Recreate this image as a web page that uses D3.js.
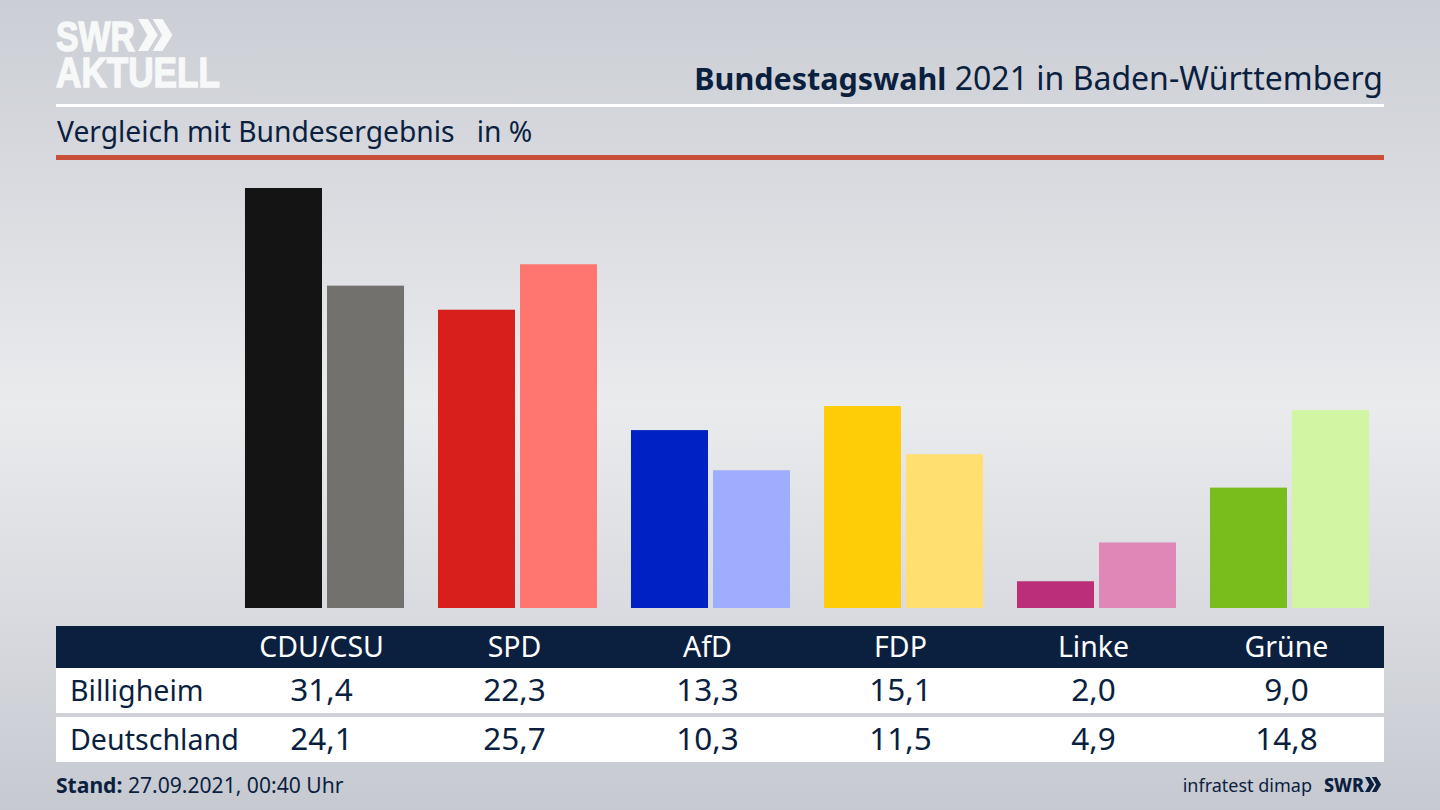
<!DOCTYPE html>
<html>
<head>
<meta charset="utf-8">
<script src="https://cdn.jsdelivr.net/npm/d3@7"></script>
<style>
  html, body { margin: 0; padding: 0; background: #d5d7dc; }
  svg { display: block; }
  text { font-family: "Noto Sans", sans-serif; fill: #0b1f3f; }
</style>
</head>
<body>
<div id="chart"></div>
<script>
var parties = ["CDU/CSU", "SPD", "AfD", "FDP", "Linke", "Grüne"];
var regions = ["Billigheim", "Deutschland"];
var billigheim = [31.4, 22.3, 13.3, 15.1, 2.0, 9.0];
var deutschland = [24.1, 25.7, 10.3, 11.5, 4.9, 14.8];
var billigheim_colors = ["#141414", "#d81f1c", "#0021c4", "#ffcc08", "#bb2f78", "#79bd1c"];
var deutschland_colors = ["#73716e", "#ff7570", "#9fadff", "#ffdf70", "#df88b7", "#d2f5a4"];

var navy = "#0b1f3f";
var svg = d3.select("#chart").append("svg").attr("width", 1440).attr("height", 810);

var defs = svg.append("defs");
var bg = defs.append("linearGradient").attr("id", "bg").attr("x1", 0).attr("x2", 0).attr("y1", 0).attr("y2", 1);
bg.selectAll("stop")
    .data([["0%", "#cbced4"], ["22%", "#d8dadf"], ["50%", "#eaebed"], ["75%", "#d9dbe0"], ["100%", "#c6c9d0"]])
    .enter().append("stop")
    .attr("offset", function(d) {return d[0];})
    .attr("stop-color", function(d) {return d[1];});
svg.append("rect").attr("width", 1440).attr("height", 810).attr("fill", "url(#bg)");

/* logo top left */
function chevrons(g, x, y, h, fill) {
    var w = h * 0.56;
    [0, w * 0.82].forEach(function(dx) {
        g.append("path")
            .attr("d", d3.line()([[x + dx, y], [x + dx + w * 0.55, y], [x + dx + w * 1.1, y + h / 2], [x + dx + w * 0.55, y + h], [x + dx, y + h], [x + dx + w * 0.52, y + h / 2]]) + "Z")
            .attr("fill", fill);
    });
}
/* both logo lines in one text element, y is in the stretched coordinates */
var logo = svg.append("text")
    .attr("transform", "translate(56,51) scale(1,1.34)")
    .attr("font-size", 32).attr("font-weight", 700)
    .style("font-family", "'Liberation Sans', sans-serif")
    .style("fill", "#f7f8f8").style("stroke", "#f7f8f8").style("stroke-width", 1.1);
logo.append("tspan").attr("x", 0).attr("y", 0)
    .attr("textLength", 79).attr("lengthAdjust", "spacingAndGlyphs").text("SWR");
logo.append("tspan").attr("x", 0).attr("y", 26.9)
    .attr("textLength", 164).attr("lengthAdjust", "spacingAndGlyphs").text("AKTUELL");
chevrons(svg.append("g"), 138, 19, 32, "#f7f8f8");

/* heading */
var title = svg.append("text").attr("x", 1383).attr("y", 90).attr("text-anchor", "end");
title.append("tspan").attr("font-weight", 700).attr("font-size", 30.5).text("Bundestagswahl");
title.append("tspan").attr("font-size", 32).text(" 2021 in Baden-Württemberg");
svg.append("rect").attr("x", 56).attr("y", 104).attr("width", 1328).attr("height", 3).attr("fill", "#ffffff");
svg.append("text").attr("x", 57).attr("y", 142).attr("font-size", 28.25).attr("xml:space", "preserve")
    .text("Vergleich mit Bundesergebnis   in %");
svg.append("rect").attr("x", 56).attr("y", 155).attr("width", 1328).attr("height", 5).attr("fill", "#c8503a");

/* bars sit 3px right of the table columns */
var x = d3.scaleBand().domain(parties).range([225, 1383]).paddingInner(0.176).paddingOuter(0.088);
var x_bars = x.copy().range([228, 1386]);
var x_inner = d3.scaleBand().domain(regions).range([0, x.bandwidth()]).paddingInner(0.061);
var y = d3.scaleLinear().domain([0, 31.4]).range([608, 188]);

function draw_series(region, values, colors) {
    svg.append("g").selectAll("rect")
        .data(values)
        .enter().append("rect")
        .attr("x", function(d, i) {return x_bars(parties[i]) + x_inner(region);})
        .attr("y", function(d) {return y(d);})
        .attr("width", x_inner.bandwidth())
        .attr("height", function(d) {return y(0) - y(d);})
        .attr("fill", function(d, i) {return colors[i];});
}
draw_series(regions[0], billigheim, billigheim_colors);
draw_series(regions[1], deutschland, deutschland_colors);

/* table */
function center(p) {return x(p) + x.bandwidth() / 2;}
svg.append("rect").attr("x", 56).attr("y", 626).attr("width", 1328).attr("height", 42).attr("fill", navy);
svg.append("rect").attr("x", 56).attr("y", 668).attr("width", 1328).attr("height", 45).attr("fill", "#ffffff");
svg.append("rect").attr("x", 56).attr("y", 717).attr("width", 1328).attr("height", 45).attr("fill", "#ffffff");

svg.append("g").selectAll("text")
    .data(parties)
    .enter().append("text")
    .attr("x", center).attr("y", 657)
    .attr("text-anchor", "middle").attr("font-size", 28.5)
    .style("fill", "#ffffff")
    .text(function(d) {return d;});

function draw_row(region, values, baseline) {
    svg.append("text").attr("x", 70).attr("y", baseline).attr("font-size", 28.6).text(region);
    svg.append("g").selectAll("text")
        .data(values)
        .enter().append("text")
        .attr("x", function(d, i) {return center(parties[i]);})
        .attr("y", baseline)
        .attr("text-anchor", "middle").attr("font-size", 31.5)
        .text(function(d) {return d3.format(".1f")(d).replace(".", ",");});
}
draw_row(regions[0], billigheim, 701);
draw_row(regions[1], deutschland, 750);

/* footer */
var stand = svg.append("text").attr("x", 56).attr("y", 793).attr("font-size", 21.1);
stand.append("tspan").attr("font-weight", 700).text("Stand:");
stand.append("tspan").text(" 27.09.2021, 00:40 Uhr");
svg.append("text").attr("x", 1312).attr("y", 792).attr("text-anchor", "end").attr("font-size", 18).text("infratest dimap");
svg.append("text").attr("x", 1324).attr("y", 792).attr("font-size", 19).attr("font-weight", 800)
    .attr("textLength", 40).attr("lengthAdjust", "spacingAndGlyphs").text("SWR");
chevrons(svg.append("g"), 1365, 777, 15, navy);
</script>
</body>
</html>
